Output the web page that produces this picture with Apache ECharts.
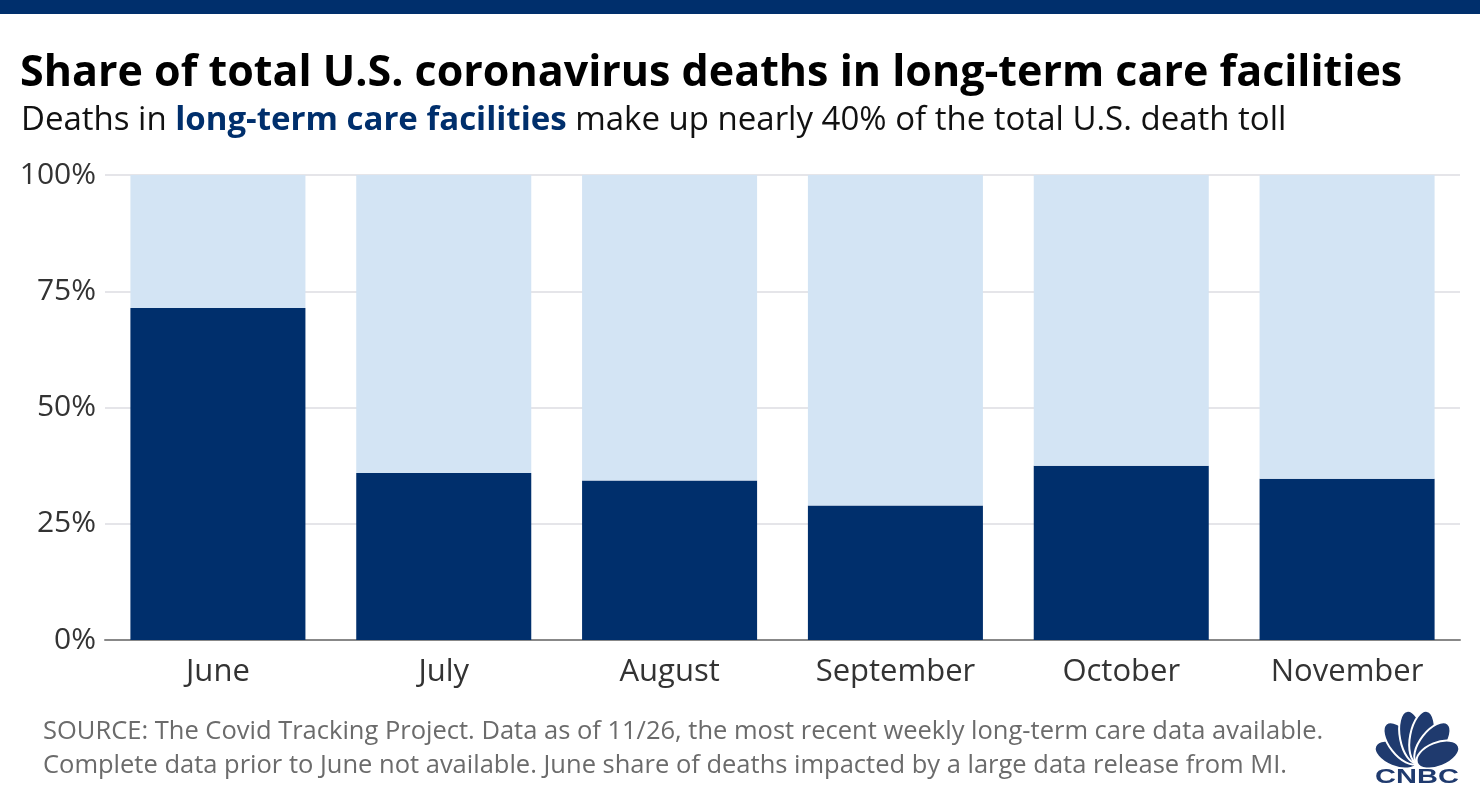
<!DOCTYPE html>
<html>
<head>
<meta charset="utf-8">
<script src="https://cdn.jsdelivr.net/npm/echarts@6/dist/echarts.min.js"></script>
<style>
  html, body { margin: 0; padding: 0; background: #fff; }
  #chart { width: 1480px; height: 800px; }
</style>
</head>
<body>
<div id="chart"></div>
<script>
// data
const months = ['June', 'July', 'August', 'September', 'October', 'November'];
const ltcShare = [71.4, 35.9, 34.3, 28.9, 37.5, 34.7];
const otherShare = [28.6, 64.1, 65.7, 71.1, 62.5, 65.3];
const yTicks = [0, 25, 50, 75, 100];

const navy = '#002f6c';
const light = '#d3e4f4';
const font = '"Open Sans"';

// CNBC peacock: feathers fanning out from one base point
const base = [1417, 763];
const feathers = [
  { a: -68, len: 45 }, { a: -38, len: 50 }, { a: -11, len: 53 },
  { a: 11, len: 53 }, { a: 38, len: 50 }, { a: 68, len: 45 }
];
const logo = feathers.map(f => ({
  type: 'ellipse',
  x: base[0], y: base[1],
  rotation: -f.a * Math.PI / 180,
  shape: { cx: 0, cy: -f.len / 2, rx: 12, ry: f.len / 2 },
  style: { fill: '#1f3a6e', stroke: '#fff', lineWidth: 2 }
}));

const chart = echarts.init(document.getElementById('chart'));
chart.setOption({
  animation: false,
  grid: { left: 105, right: 20, top: 175, bottom: 160 },
  xAxis: {
    type: 'category', data: months,
    axisLine: { lineStyle: { color: '#888', width: 2 } },
    axisTick: { show: false },
    axisLabel: { color: '#333', fontFamily: font, fontSize: 31, margin: 17 }
  },
  yAxis: {
    type: 'value', min: yTicks[0], max: yTicks[yTicks.length - 1], interval: 25,
    axisLabel: { formatter: '{value}%', color: '#333', fontFamily: font, fontSize: 30, margin: 9 },
    splitLine: { lineStyle: { color: '#dcdde2', width: 1.5 } },
    axisLine: { show: false }, axisTick: { show: false }
  },
  series: [
    { name: 'Long-term care', type: 'bar', stack: 'all', data: ltcShare,
      barWidth: '77.5%', itemStyle: { color: navy } },
    { name: 'Other', type: 'bar', stack: 'all', data: otherShare,
      barWidth: '77.5%', itemStyle: { color: light } }
  ],
  graphic: [
    { type: 'rect', left: 0, top: 0, shape: { width: 1480, height: 14 }, style: { fill: navy } },
    { type: 'text', left: 20, top: 52,
      style: { text: 'Share of total U.S. coronavirus deaths in long-term care facilities',
        font: 'bold 43px ' + font, fill: '#000' } },
    { type: 'text', left: 21, top: 104,
      style: {
        text: '{n|Deaths in }{b|long-term care facilities}{n| make up nearly 40% of the total U.S. death toll}',
        rich: {
          n: { font: '33px ' + font, fill: '#111' },
          b: { font: 'bold 33px ' + font, fill: navy }
        }
      } },
    { type: 'text', left: 43, top: 719,
      style: { text: 'SOURCE: The Covid Tracking Project. Data as of 11/26, the most recent weekly long-term care data available.',
        font: '25.5px ' + font, fill: '#6b6b6b' } },
    { type: 'text', left: 43, top: 753,
      style: { text: 'Complete data prior to June not available. June share of deaths impacted by a large data release from MI.',
        font: '25.5px ' + font, fill: '#6b6b6b' } },
    ...logo,
    { type: 'text', x: 1417, y: 777, scaleX: 1.45,
      style: { text: 'CNBC', font: 'bold 20px "Liberation Sans"', fill: '#1f3a6e',
        align: 'center', verticalAlign: 'middle' } }
  ]
});
</script>
</body>
</html>
